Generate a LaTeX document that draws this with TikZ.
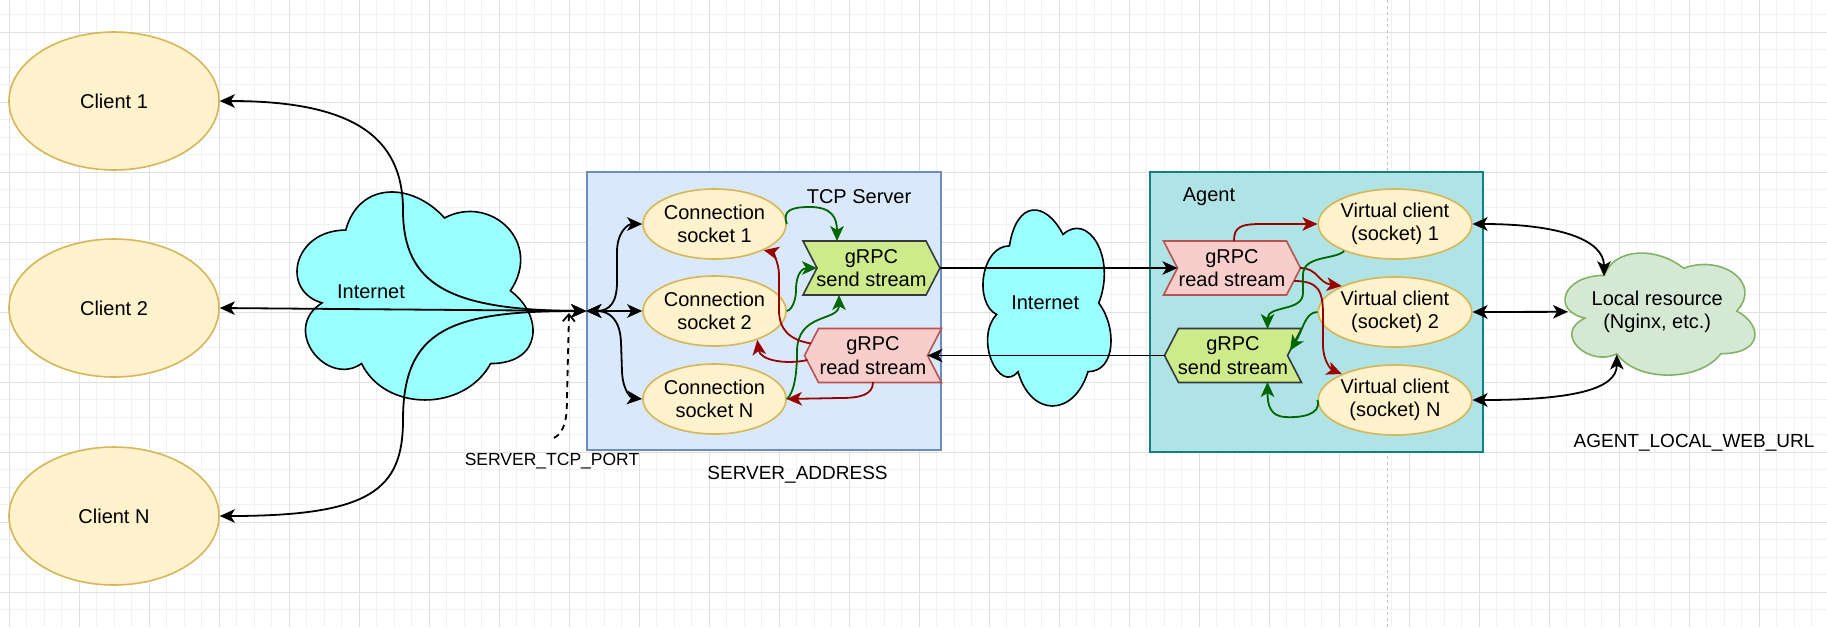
\documentclass[tikz,border=0pt]{standalone}
\usepackage{fontspec}
\setmainfont{Liberation Sans}
\usetikzlibrary{arrows.meta,shapes.geometric,calc}
\definecolor{ellfill}{HTML}{FFF2CC}
\definecolor{ellline}{HTML}{D6B656}
\definecolor{netfill}{HTML}{99FFFF}
\definecolor{tcpfill}{HTML}{DAE8FC}
\definecolor{tcpline}{HTML}{6C8EBF}
\definecolor{agfill}{HTML}{B0E3E6}
\definecolor{agline}{HTML}{0E8088}
\definecolor{sendfill}{HTML}{CDEB8B}
\definecolor{sendline}{HTML}{36393D}
\definecolor{readfill}{HTML}{F8CECC}
\definecolor{readline}{HTML}{B85450}
\definecolor{locfill}{HTML}{D5E8D4}
\definecolor{locline}{HTML}{82B366}
\definecolor{redflow}{HTML}{990000}
\definecolor{greenflow}{HTML}{006600}
\definecolor{gridminor}{HTML}{F2F2F2}
\definecolor{gridmajor}{HTML}{E0E0E0}
\definecolor{pagebreak}{HTML}{C4C4C4}

\newcommand{\dioCloud}[5]{%
  \begin{scope}[shift={(#1,#2)},x=#3pt,y=-#4pt]
  \filldraw[#5] (0.25,0.25) .. controls (0.05,0.25) and (0,0.5) .. (0.16,0.55)
    .. controls (0,0.66) and (0.18,0.9) .. (0.31,0.8)
    .. controls (0.4,1) and (0.7,1) .. (0.8,0.8)
    .. controls (1,0.8) and (1,0.6) .. (0.875,0.5)
    .. controls (1,0.3) and (0.8,0.1) .. (0.625,0.2)
    .. controls (0.5,0.05) and (0.3,0.05) .. (0.25,0.25) -- cycle;
  \end{scope}}

\newcommand{\chevRight}[6]{%
  \filldraw[fill=#4,draw=#5,line width=1.6pt] ({#2-68.5},{#3-27}) -- ({#2+54.5},{#3-27}) -- ({#2+68.5},#3) -- ({#2+54.5},{#3+27}) -- ({#2-68.5},{#3+27}) -- ({#2-54.5},#3) -- cycle;
  \node[lbl, minimum width=137pt, minimum height=54pt] (#1) at (#2,#3) {#6};}

\newcommand{\chevLeft}[6]{%
  \filldraw[fill=#4,draw=#5,line width=1.6pt] ({#2-68.5},#3) -- ({#2-54.5},{#3-27}) -- ({#2+68.5},{#3-27}) -- ({#2+54.5},#3) -- ({#2+68.5},{#3+27}) -- ({#2-54.5},{#3+27}) -- cycle;
  \node[lbl, minimum width=137pt, minimum height=54pt] (#1) at (#2,#3) {#6};}

\begin{document}
\begin{tikzpicture}[x=1pt,y=-1pt,
  >={Stealth[length=15pt,width=13.5pt,inset=4pt]},
  lbl/.style={inner sep=0, align=center, font=\fontsize{20}{23.5}\selectfont},
  ell/.style={ellipse, draw=ellline, fill=ellfill, line width=1.6pt, inner sep=0, align=center, font=\fontsize{20}{23.5}\selectfont},
  lnk/.style={line width=1.8pt},
  redge/.style={lnk, draw=redflow, ->},
  gedge/.style={lnk, draw=greenflow, ->}]
\fill[white] (0,0) rectangle (1827,627);
\useasboundingbox (0,0) rectangle (1827,627);
% grid
\foreach \i in {0,...,103} \draw[gridminor, line width=0.8pt] ({9.3+17.5*\i},0) -- ({9.3+17.5*\i},627);
\foreach \i in {0,...,34} \draw[gridminor, line width=0.8pt] (0,{14.8+17.5*\i}) -- (1827,{14.8+17.5*\i});
\foreach \i in {0,...,25} \draw[gridmajor, line width=0.8pt] ({9.3+70*\i},0) -- ({9.3+70*\i},627);
\foreach \i in {0,...,8} \draw[gridmajor, line width=0.8pt] (0,{32.3+70*\i}) -- (1827,{32.3+70*\i});
\draw[pagebreak, dashed, line width=0.8pt] (1387.5,0) -- (1387.5,627);

% containers
\node[draw=tcpline, fill=tcpfill, line width=1.6pt, minimum width=354pt, minimum height=278pt, inner sep=0] (srv) at (764,311) {};
\node[draw=agline, fill=agfill, line width=1.6pt, minimum width=333pt, minimum height=280pt, inner sep=0] (agent) at (1316.5,312) {};

% clouds
\dioCloud{279.9}{169.4}{263.4}{242.7}{fill=netfill, draw=black, line width=1.6pt}
\node[inner sep=0, minimum width=263.4pt, minimum height=242.7pt] (netL) at (411.6,290.8) {};
\dioCloud{973.7}{188.7}{142.9}{228.7}{fill=netfill, draw=black, line width=1.6pt}
\node[lbl, minimum width=142.9pt, minimum height=228.7pt] (netM) at (1045.2,303) {Internet};
\dioCloud{1551.2}{239.8}{212}{142.4}{fill=locfill, draw=locline, line width=1.6pt}
\node[lbl, minimum width=212pt, minimum height=142.4pt] (loc) at (1657.2,312) {Local resource\\(Nginx, etc.)};
\coordinate (locA) at ($(loc.north west)+(53,35.6)$);
\coordinate (locW) at ($(loc.north west)+(17,71.2)$);
\coordinate (locB) at ($(loc.north west)+(65.7,113.9)$);

% clients
\node[ell, minimum width=210pt, minimum height=138pt] (c1) at (114,101) {Client 1};
\node[ell, minimum width=210pt, minimum height=138pt] (c2) at (114,308) {Client 2};
\node[ell, minimum width=210pt, minimum height=138pt] (cN) at (114,516) {Client N};

% sockets
\node[ell, minimum width=123pt, minimum height=70pt] (s1) at (714.5,224) {Connection\\socket 1};
\node[ell, minimum width=123pt, minimum height=70pt] (s2) at (714.5,311) {Connection\\socket 2};
\node[ell, minimum width=123pt, minimum height=70pt] (sN) at (714.5,399) {Connection\\socket N};

% virtual clients
\node[ell, minimum width=140pt, minimum height=70pt] (vc1) at (1395,224) {Virtual client\\(socket) 1};
\node[ell, minimum width=140pt, minimum height=70pt] (vc2) at (1395,312) {Virtual client\\(socket) 2};
\node[ell, minimum width=140pt, minimum height=70pt] (vcN) at (1395,400) {Virtual client\\(socket) N};

% streams
\chevRight{ss}{871.5}{268}{sendfill}{sendline}{gRPC\\send stream}
\chevLeft{rs}{873}{355.5}{readfill}{readline}{gRPC\\read stream}
\chevRight{ar}{1232}{268}{readfill}{readline}{gRPC\\read stream}
\chevLeft{as}{1233}{355.5}{sendfill}{sendline}{gRPC\\send stream}

% titles and labels
\node[lbl] (tcptitle) at (859,197) {TCP Server};
\node[lbl] (agtitle) at (1209,197) {Agent};
\node[lbl, font=\fontsize{17.5}{20}\selectfont] (tcpport) at (552,461) {SERVER\_TCP\_PORT};
\node[lbl, font=\fontsize{19}{22}\selectfont] (saddr) at (797.5,475) {SERVER\_ADDRESS};
\node[lbl, font=\fontsize{19}{22}\selectfont] (alurl) at (1694,443) {AGENT\_LOCAL\_WEB\_URL};

% client connections
\draw[lnk,<->] (c1.east) .. controls (350,101) and (403,135) .. (403,210) .. controls (403,285) and (450,310) .. (srv.west);
\draw[lnk,<->] (c2.east) -- (srv.west);
\draw[lnk,<->] (cN.east) .. controls (370,516) and (403,490) .. (403,420) .. controls (403,330) and (450,311) .. (srv.west);
\node[lbl] (netLtxt) at (371,292) {Internet};

% port
\coordinate (portstart) at (554,438);
\coordinate (porttip) at (569,313);
\draw[lnk, dash pattern=on 6pt off 5pt, -{Straight Barb[length=7pt,width=12pt]}] (portstart) .. controls (565,432) and (567,418) .. (567,398) -- (porttip);

% fan-out to sockets
\draw[lnk,<->] (srv.west) .. controls (610,311) and (617,302) .. (617,282) -- (617,252) .. controls (617,232) and (628,224) .. (s1.west);
\draw[lnk,<->] (srv.west) -- (s2.west);
\draw[lnk,<->] (srv.west) .. controls (610,311) and (620,320) .. (621,342) -- (622,372) .. controls (623,392) and (632,398) .. (sN.west);

% sockets to send stream
\draw[gedge] (s1.east) .. controls (782,210) and (792,207) .. (810,207) .. controls (832,207) and (837,218) .. ($(ss.center)+(-34.5,-27)$);
\draw[gedge] (s2.east) .. controls (790,311) and (796,303) .. (796,290) .. controls (796,273) and (803,268) .. ($(ss.center)+(-54.5,0)$);
\draw[gedge] (sN.east) .. controls (793,394) and (797,378) .. (797,352) .. controls (797,312) and (839,322) .. ($(ss.center)+(-32.5,27)$);

% read stream to sockets
\draw[redge] ($(rs.center)+(-62,-12)$) .. controls (790,340) and (779,330) .. (779,310) -- (779,275) .. controls (779,262) and (772,252) .. (s1.-28);
\draw[redge] ($(rs.center)+(-65.5,4.5)$) .. controls (785,365) and (760,360) .. (s2.-34);
\draw[redge] ($(rs.center)+(0,26.5)$) .. controls (873,395) and (860,398) .. (840,398) -- (sN.east);

% streams across the internet
\draw[lnk,->] ($(ss.center)+(68.5,0)$) -- ($(ar.center)+(-54.5,0)$);
\draw[lnk,->] ($(as.center)+(-68.5,0)$) -- ($(rs.center)+(54.5,0)$);

% agent read stream to virtual clients
\draw[redge] ($(ar.center)+(2,-27)$) .. controls (1234,227) and (1240,224) .. (1262,224) -- (vc1.west);
\draw[redge] ($(ar.center)+(68,0)$) .. controls (1318,268) and (1318,283) .. (vc2.154);
\draw[redge] ($(ar.center)+(62,13)$) .. controls (1318,281) and (1323,290) .. (1323,315) -- (1323,345) .. controls (1323,362) and (1332,370) .. (vcN.154);

% virtual clients to agent send stream
\draw[gedge] (vc1.208) .. controls (1335,260) and (1303,255) .. (1303,275) -- (1303,293) .. controls (1303,312) and (1267.5,305) .. ($(as.center)+(34.5,-26.5)$);
\draw[gedge] (vc2.west) .. controls (1305,312) and (1303,330) .. ($(as.center)+(57,-5)$);
\draw[gedge] (vcN.west) .. controls (1322,415) and (1300,418) .. (1285,417) .. controls (1270,416) and (1267.5,405) .. ($(as.center)+(34.5,26.5)$);

% virtual clients to local resource
\draw[lnk,<->] (vc1.east) .. controls (1560,224) and (1604,240) .. (locA);
\draw[lnk,<->] (vc2.east) -- (locW);
\draw[lnk,<->] (vcN.east) .. controls (1570,400) and (1617,390) .. (locB);
\end{tikzpicture}
\end{document}
